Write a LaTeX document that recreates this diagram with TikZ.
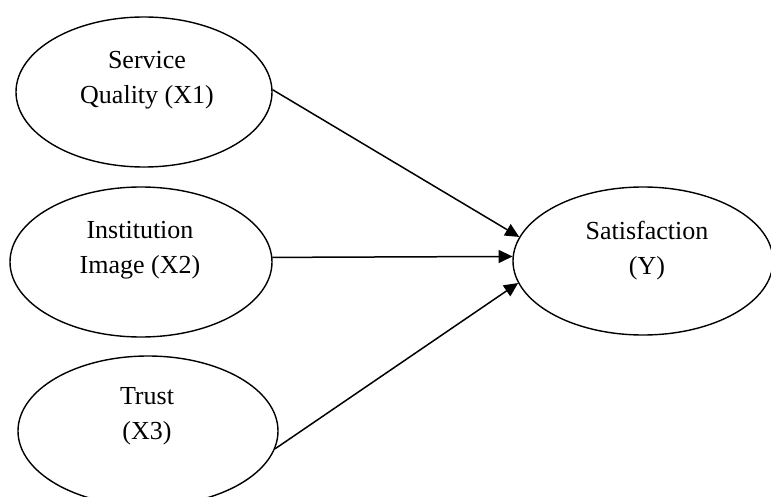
\documentclass[tikz,border=0pt]{standalone}
\usepackage{fontspec}
\setmainfont{Liberation Serif}
\usetikzlibrary{shapes.geometric,arrows.meta}
\begin{document}
\begin{tikzpicture}[x=1pt,y=-1pt,
  latent/.style={draw=black,line width=1.4pt,ellipse,inner sep=0pt},
  lbl/.style={align=center,font=\fontsize{26}{35}\selectfont,inner sep=0pt},
  path/.style={draw=black,line width=1.5pt,-{Triangle[length=14pt,width=13pt]}}]
\useasboundingbox (0,0) rectangle (771,497);
\node[latent,minimum width=256pt,minimum height=150pt] (x1) at (144,92) {};
\node[latent,minimum width=262pt,minimum height=150pt] (x2) at (141,262) {};
\node[latent,minimum width=260pt,minimum height=150pt] (x3) at (148,431) {};
\node[latent,minimum width=260pt,minimum height=148pt] (y) at (643,261) {};
\node[lbl] (t1) at (147,80) {Service\\Quality (X1)};
\node[lbl] (t2) at (140,250) {Institution\\Image (X2)};
\node[lbl] (t3) at (147,416) {Trust\\(X3)};
\node[lbl] (ty) at (647,251) {Satisfaction\\(Y)};
\draw[path] (x1.1) -- (y.169);
\draw[path] (x2.2) -- (y.178);
\draw[path] (x3.-8) -- (y.190);
\end{tikzpicture}
\end{document}
